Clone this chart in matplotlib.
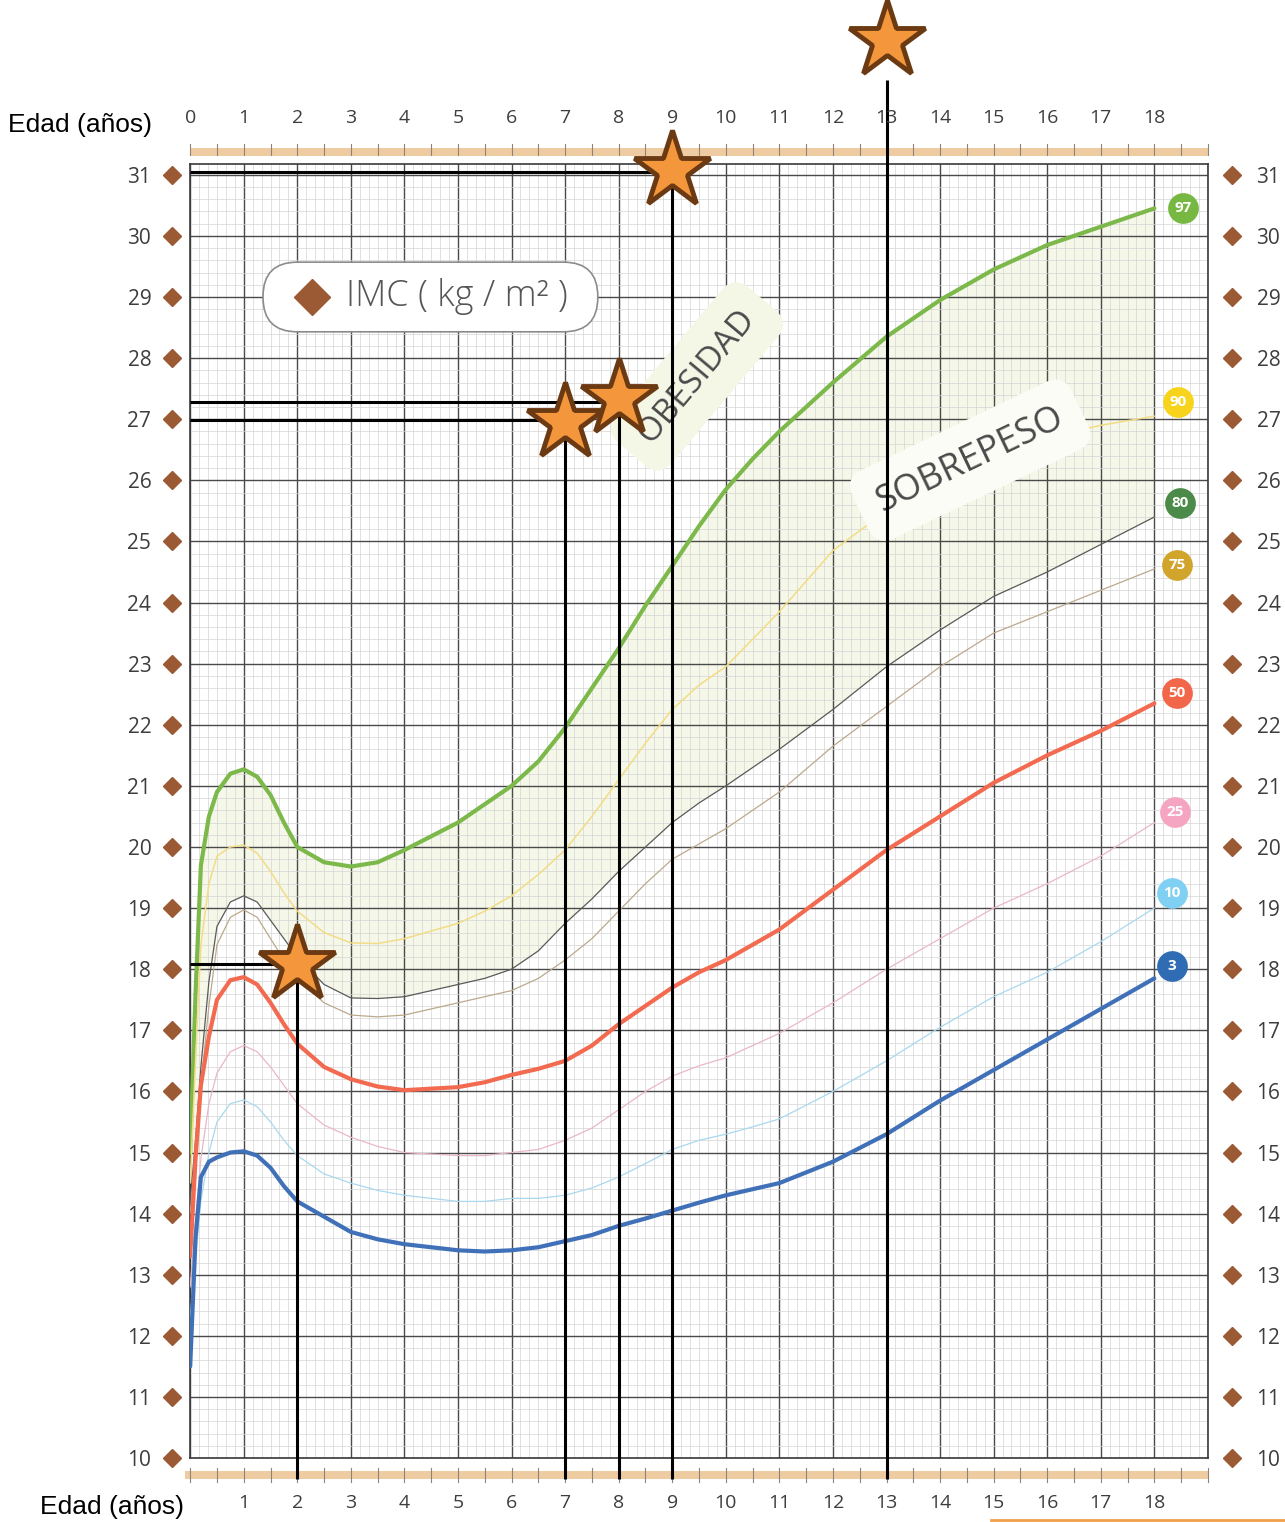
import matplotlib
matplotlib.use("Agg")
import matplotlib.pyplot as plt
import numpy as np
from matplotlib.transforms import blended_transform_factory
from matplotlib.patches import FancyBboxPatch, Rectangle
from matplotlib.lines import Line2D

# ---------------- data ----------------
ages = [0, 0.1, 0.2, 0.35, 0.5, 0.75, 1, 1.25, 1.5, 1.75, 2, 2.5, 3, 3.5, 4,
        5, 5.5, 6, 6.5, 7, 7.5, 8, 8.5, 9, 9.5, 10, 10.5, 11, 12, 13, 14, 15, 16, 17, 18]

p97 = [15.0, 17.6, 19.7, 20.5, 20.9, 21.2, 21.27, 21.15, 20.85, 20.4, 20.0, 19.75, 19.68, 19.75, 19.95,
       20.4, 20.7, 21.0, 21.4, 21.95, 22.6, 23.25, 23.95, 24.6, 25.25, 25.85, 26.35, 26.8,
       27.6, 28.35, 28.95, 29.45, 29.85, 30.15, 30.45]
p90 = [14.5, 16.5, 18.4, 19.4, 19.85, 20.0, 20.03, 19.9, 19.6, 19.25, 18.95, 18.6, 18.43, 18.42, 18.5,
       18.75, 18.95, 19.2, 19.55, 19.95, 20.5, 21.1, 21.7, 22.25, 22.65, 22.95, 23.4, 23.85,
       24.85, 25.5, 26.0, 26.4, 26.7, 26.9, 27.05]
p80 = [14.2, 15.2, 16.4, 17.8, 18.7, 19.1, 19.2, 19.1, 18.8, 18.5, 18.2, 17.75, 17.53, 17.52, 17.55,
       17.75, 17.85, 18.0, 18.3, 18.75, 19.15, 19.6, 20.0, 20.4, 20.72, 21.0, 21.3, 21.6,
       22.25, 22.95, 23.55, 24.1, 24.5, 24.95, 25.4]
p75 = [14.0, 15.0, 16.1, 17.4, 18.4, 18.85, 18.97, 18.85, 18.5, 18.15, 17.85, 17.45, 17.25, 17.22, 17.25,
       17.45, 17.55, 17.65, 17.85, 18.15, 18.5, 18.95, 19.4, 19.8, 20.05, 20.3, 20.6, 20.9,
       21.65, 22.3, 22.95, 23.5, 23.85, 24.2, 24.55]
p50 = [13.3, 14.9, 16.1, 16.9, 17.5, 17.82, 17.87, 17.75, 17.45, 17.1, 16.78, 16.4, 16.2, 16.08, 16.02,
       16.07, 16.15, 16.27, 16.37, 16.5, 16.75, 17.1, 17.4, 17.7, 17.95, 18.15, 18.4, 18.65,
       19.3, 19.95, 20.5, 21.05, 21.5, 21.9, 22.35]
p25 = [12.8, 13.9, 14.9, 15.8, 16.3, 16.65, 16.75, 16.65, 16.4, 16.1, 15.8, 15.45, 15.25, 15.1, 15.0,
       14.95, 14.95, 15.0, 15.05, 15.2, 15.4, 15.7, 16.0, 16.25, 16.42, 16.55, 16.75, 16.95,
       17.45, 18.0, 18.5, 19.0, 19.4, 19.85, 20.4]
p10 = [12.3, 13.3, 14.2, 15.0, 15.5, 15.8, 15.86, 15.75, 15.5, 15.2, 14.95, 14.65, 14.5, 14.38, 14.3,
       14.2, 14.2, 14.25, 14.25, 14.3, 14.42, 14.6, 14.82, 15.05, 15.2, 15.3, 15.42, 15.55,
       16.0, 16.5, 17.05, 17.55, 17.95, 18.45, 19.0]
p3 = [11.5, 13.6, 14.6, 14.85, 14.92, 15.0, 15.02, 14.95, 14.75, 14.45, 14.2, 13.95, 13.7, 13.58, 13.5,
      13.4, 13.38, 13.4, 13.45, 13.55, 13.65, 13.8, 13.92, 14.05, 14.18, 14.3, 14.4, 14.5,
      14.85, 15.3, 15.85, 16.35, 16.85, 17.35, 17.85]

percentile_labels = ["97", "90", "80", "75", "50", "25", "10", "3"]
percentile_colors = ["#7cb84a", "#f3dc86", "#5a5a5a", "#bba98c", "#f26a4f", "#e9b7c8", "#a9d8ef", "#3f70b8"]
badge_colors = ["#77b843", "#f8d31c", "#4b8a48", "#d1a42b", "#f2674a", "#f5a5c2", "#7fd0f2", "#2f6cb4"]
line_widths = [3.0, 1.1, 0.9, 0.9, 3.0, 0.9, 0.9, 3.0]
badge_x = [18.53, 18.44, 18.48, 18.42, 18.42, 18.38, 18.33, 18.33]
badge_y = [30.46, 27.28, 25.63, 24.62, 22.52, 20.57, 19.25, 18.05]

star_ages = [2, 7, 8, 9, 13]
star_imc = [18.08, 26.95, 27.35, 31.08, 33.2]
vline_top = [18.08, 26.95, 27.35, 31.08, 32.55]
hline_imc = [18.08, 26.99, 27.28, 31.05]
hline_end = [1.8, 6.8, 7.7, 8.8]

top_ticks = list(range(0, 19))
bottom_ticks = list(range(1, 19))
y_ticks = list(range(10, 32))

series = [p97, p90, p80, p75, p50, p25, p10, p3]

# ---------------- figure ----------------
TXT = "#3d3d3d"
BROWN = "#9b5a34"
FONT = ["Open Sans", "DejaVu Sans"]

fig = plt.figure(figsize=(12.85, 15.22), dpi=100)
fig.patch.set_facecolor("white")
ax = fig.add_axes([0.148, 0.042, 0.792, 0.850])
ax.set_xlim(0, 19)
ax.set_ylim(10, 31.17)

# grid
ax.set_xticks(range(0, 20))
ax.set_xticks(np.arange(0, 19, 1 / 6), minor=True)
ax.set_yticks(y_ticks)
ax.set_yticks(np.arange(10, 31.2, 0.2), minor=True)
ax.set_axisbelow(True)
ax.grid(which="major", color="#4a4a4a", lw=1.0)
ax.grid(which="minor", color="#d4d4d4", lw=0.5)
for s in ax.spines.values():
    s.set_color("#3a3a3a")
    s.set_linewidth(1.2)

ax.tick_params(axis="both", which="both", length=0)
ax.set_xticklabels([""] * 20)
ax.set_yticklabels([str(v) for v in y_ticks], fontsize=15, color=TXT, family=FONT)
ax.tick_params(axis="y", pad=28)

# bottom labels
ax_b = ax.twiny()
ax_b.set_xlim(0, 19)
ax_b.xaxis.set_ticks_position("bottom")
ax_b.xaxis.set_label_position("bottom")
ax_b.set_xticks(bottom_ticks)
ax_b.set_xticklabels([str(v) for v in bottom_ticks], fontsize=14, color=TXT, family=FONT)
ax_b.tick_params(axis="x", length=0, pad=26)
for s in ax_b.spines.values():
    s.set_visible(False)

# top labels
ax_t = ax.twiny()
ax_t.set_xlim(0, 19)
ax_t.set_xticks(top_ticks)
ax_t.set_xticklabels([str(v) for v in top_ticks], fontsize=14, color=TXT, family=FONT)
ax_t.tick_params(axis="x", length=0, pad=27)
for s in ax_t.spines.values():
    s.set_visible(False)

# right labels
ax_r = ax.twinx()
ax_r.set_ylim(10, 31.17)
ax_r.set_yticks(y_ticks)
ax_r.set_yticklabels([str(v) for v in y_ticks], fontsize=15, color=TXT, family=FONT)
ax_r.tick_params(axis="y", length=0, pad=35)
for s in ax_r.spines.values():
    s.set_visible(False)

# diamonds next to the y labels
bt_y = blended_transform_factory(ax.transAxes, ax.transData)
ax.plot([-0.018] * len(y_ticks), y_ticks, "D", ms=9, color=BROWN, transform=bt_y, clip_on=False, zorder=5)
ax.plot([1.024] * len(y_ticks), y_ticks, "D", ms=9, color=BROWN, transform=bt_y, clip_on=False, zorder=5)

# tan strips with half-year ticks
bt_x = blended_transform_factory(ax.transData, ax.transAxes)
STRIP = "#efcba2"
ax.add_patch(Rectangle((0, 1.0062), 19, 0.0062, transform=bt_x, color=STRIP, clip_on=False, lw=0))
ax.add_patch(Rectangle((-0.1, -0.0162), 19.1, 0.0062, transform=bt_x, color=STRIP, clip_on=False, lw=0))
for t in np.arange(0, 19.01, 0.5):
    ax.plot([t, t], [1.007, 1.016], color="#8f8377", lw=0.8, transform=bt_x, clip_on=False)
    ax.plot([t, t], [-0.008, -0.0185], color="#8f8377", lw=0.8, transform=bt_x, clip_on=False)

# shaded overweight band (very faint)
ax.fill_between(ages, p80, p97, color="#f5f8e8", lw=0, zorder=0.2)

# percentile curves
for vals, col, lw in zip(series, percentile_colors, line_widths):
    ax.plot(ages, vals, color=col, lw=lw, solid_joinstyle="round", solid_capstyle="round", zorder=3)

# badges
for bx, by, lab, col in zip(badge_x, badge_y, percentile_labels, badge_colors):
    ax.scatter([bx], [by], s=490, color=col, zorder=6, clip_on=False, lw=0)
    ax.text(bx, by, lab, color="white", fontsize=11, fontweight="bold", ha="center", va="center",
            family=FONT, zorder=7)

# IMC label box
box = FancyBboxPatch((1.36, 28.43), 6.25, 1.14, boxstyle="round,pad=0,rounding_size=0.64",
                     mutation_aspect=0.877, facecolor="white", edgecolor="#8c8c8c", lw=1.2, zorder=4)
ax.add_patch(box)
ax.plot([2.28], [29.0], "D", ms=18, color=BROWN, zorder=5)
ax.text(2.9, 29.0, "IMC ( kg / m² )", fontsize=26, color="#555555", family=FONT, fontweight="light",
        ha="left", va="center", zorder=5)

# zone labels
ax.text(9.46, 27.7, "OBESIDAD", rotation=50, rotation_mode="anchor", ha="center", va="center",
        fontsize=24, color="#4a4a4a", family=FONT, zorder=4,
        bbox=dict(boxstyle="round,pad=0.6", facecolor="#f4f7e6", edgecolor="none"))
ax.text(14.56, 26.33, "SOBREPESO", rotation=25.5, rotation_mode="anchor", ha="center", va="center",
        fontsize=26, color="#4a4a4a", family=FONT, zorder=4,
        bbox=dict(boxstyle="round,pad=0.55", facecolor="#fbfcf6", edgecolor="none"))

# reference lines and stars
for yv, xe in zip(hline_imc, hline_end):
    ax.plot([0, xe], [yv, yv], color="black", lw=2.2, zorder=8, clip_on=False, solid_capstyle="butt")
for xv, yt in zip(star_ages, vline_top):
    ax.plot([xv, xv], [9.65, yt], color="black", lw=2.2, zorder=8, clip_on=False, solid_capstyle="butt")
ax.plot(star_ages, star_imc, linestyle="none", marker="*", ms=58, mfc="#f4973c", mec="#6b3a12",
        mew=3.5, zorder=9, clip_on=False)

# axis titles
fig.text(0.0623, 0.9179, "Edad (años)", fontsize=19, color="black", family=["Liberation Sans", "DejaVu Sans"],
         ha="center", va="center")
fig.text(0.0872, 0.0099, "Edad (años)", fontsize=19, color="black", family=["Liberation Sans", "DejaVu Sans"],
         ha="center", va="center")
fig.add_artist(Line2D([0.771, 1.0], [0.0013, 0.0013], color="#f0a04a", lw=2, transform=fig.transFigure))

fig.savefig("out.png", dpi=100)
